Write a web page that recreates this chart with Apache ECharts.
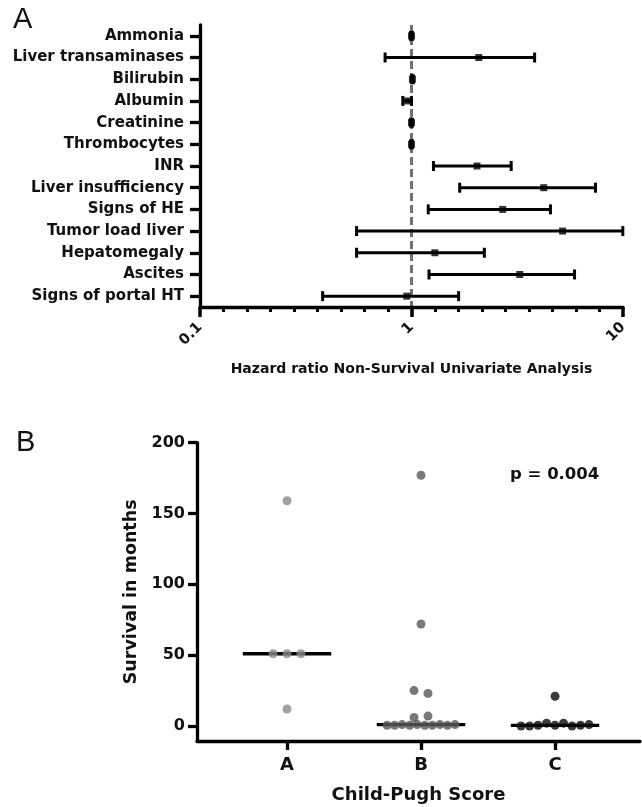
<!DOCTYPE html>
<html>
<head>
<meta charset="utf-8">
<script src="https://cdn.jsdelivr.net/npm/echarts@6/dist/echarts.min.js"></script>
<style>
  html, body { margin: 0; padding: 0; background: #fff; }
  #chart { width: 642px; height: 807px; }
</style>
</head>
<body>
<div id="chart"></div>
<script>
// ---------- Panel A data (hazard ratios) ----------
const factors = ['Ammonia', 'Liver transaminases', 'Bilirubin', 'Albumin', 'Creatinine',
  'Thrombocytes', 'INR', 'Liver insufficiency', 'Signs of HE', 'Tumor load liver',
  'Hepatomegaly', 'Ascites', 'Signs of portal HT'];
const hrLow  = [0.99, 0.75, 1.00, 0.91, 0.99, 0.99, 1.27, 1.69, 1.20, 0.55, 0.55, 1.21, 0.38];
const hrEst  = [1.00, 2.08, 1.01, 0.96, 1.00, 1.00, 2.04, 4.22, 2.70, 5.18, 1.29, 3.25, 0.95];
const hrHigh = [1.01, 3.82, 1.02, 1.00, 1.01, 1.01, 2.96, 7.41, 4.54, 9.98, 2.21, 5.90, 1.67];
const hrTicks = [0.1, 1, 10];

// ---------- Panel B data (survival in months) ----------
const groups = ['A', 'B', 'C'];
const survA = [159, 51, 51, 51, 12];
const survB = [177, 72, 25, 23, 6, 7, 0.5, 0.5, 1, 0.5, 1, 0.5, 0.5, 1, 0.5, 1];
const survC = [21, 0, 0, 0.5, 2, 0.5, 2, 0, 0.5, 1];
const survTicks = [0, 50, 100, 150, 200];
const pText = 'p = 0.004';

// ---------- helpers ----------
function median(arr) {
  const s = arr.slice().sort((a, b) => a - b);
  const n = s.length;
  return n % 2 ? s[(n - 1) / 2] : (s[n / 2 - 1] + s[n / 2]) / 2;
}
// simple centred beeswarm: points with near-equal values share a row
function swarm(vals, center) {
  const idx = vals.map((v, i) => i).sort((a, b) => vals[b] - vals[a]);
  const rows = [];
  idx.forEach(i => {
    const last = rows[rows.length - 1];
    if (last && Math.abs(vals[last[last.length - 1]] - vals[i]) < 4) last.push(i);
    else rows.push([i]);
  });
  const out = [];
  rows.forEach(r => {
    r.sort((a, b) => a - b);
    const n = r.length;
    const sp = n > 1 ? Math.min(0.104, 0.507 / (n - 1)) : 0;
    r.forEach((i, k) => out.push([center + (k - (n - 1) / 2) * sp, vals[i]]));
  });
  return out;
}
// evenly spaced (in log space) minor tick positions, 9 per decade
const minorTickVals = [];
for (let d = 0; d < hrTicks.length - 1; d++) {
  for (let k = 1; k < 9; k++) minorTickVals.push(hrTicks[d] * Math.pow(10, k / 9));
}

const boldFont = 'DejaVu Sans';
const survSets = [survA, survB, survC];
const dotColors = ['#8a8a8a', '#575757', '#0a0a0a'];
const medHalf = 0.33;

const series = [
  {
    type: 'custom',
    xAxisIndex: 0, yAxisIndex: 0,
    data: factors.map((f, i) => [hrLow[i], hrHigh[i], i]),
    encode: { x: [0, 1], y: 2 },
    renderItem: function (params, api) {
      const y = api.value(2);
      const lo = api.coord([api.value(0), y]);
      const hi = api.coord([api.value(1), y]);
      const st = { stroke: '#000', lineWidth: 3 };
      return {
        type: 'group',
        children: [
          { type: 'line', shape: { x1: lo[0], y1: lo[1], x2: hi[0], y2: hi[1] }, style: st },
          { type: 'line', shape: { x1: lo[0], y1: lo[1] - 5, x2: lo[0], y2: lo[1] + 5 }, style: st },
          { type: 'line', shape: { x1: hi[0], y1: hi[1] - 5, x2: hi[0], y2: hi[1] + 5 }, style: st }
        ]
      };
    },
    z: 3
  },
  {
    type: 'scatter',
    xAxisIndex: 0, yAxisIndex: 0,
    data: factors.map((f, i) => [hrEst[i], i]),
    symbol: 'rect',
    symbolSize: [7, 7],
    itemStyle: { color: '#000' },
    z: 4,
    markLine: {
      silent: true,
      symbol: 'none',
      label: { show: false },
      lineStyle: { color: '#707070', width: 3, type: [8, 4] },
      data: [{ xAxis: 1 }],
      z: 2
    }
  }
];

groups.forEach((g, gi) => {
  const m = median(survSets[gi]);
  series.push({
    type: 'line',
    xAxisIndex: 2, yAxisIndex: 1,
    data: [[gi + 1 - medHalf, m], [gi + 1 + medHalf, m]],
    symbol: 'none',
    lineStyle: { color: '#000', width: 3.3 },
    z: 2,
    silent: true
  });
  series.push({
    type: 'scatter',
    xAxisIndex: 2, yAxisIndex: 1,
    data: swarm(survSets[gi], gi + 1),
    symbolSize: 9,
    itemStyle: { color: dotColors[gi] },
    z: 3
  });
});

const chart = echarts.init(document.getElementById('chart'), null, { renderer: 'canvas' });
chart.setOption({
  animation: false,
  backgroundColor: '#fff',
  grid: [
    { left: 200, top: 25, width: 423, height: 282 },
    { left: 197, top: 442.7, width: 443, height: 298.3 }
  ],
  xAxis: [
    {
      gridIndex: 0,
      type: 'log',
      logBase: 10,
      position: 'bottom',
      min: hrTicks[0],
      max: hrTicks[hrTicks.length - 1],
      name: 'Hazard ratio Non-Survival Univariate Analysis',
      nameLocation: 'middle',
      nameGap: 55,
      nameTextStyle: { fontFamily: boldFont, fontWeight: 'bold', fontSize: 14, color: '#111' },
      axisLine: { show: true, onZero: false, lineStyle: { color: '#000', width: 3.3 } },
      axisTick: { show: true, customValues: hrTicks, length: 10, lineStyle: { color: '#000', width: 3.5 } },
      splitLine: { show: false },
      axisLabel: {
        customValues: hrTicks,
        rotate: 45, margin: 18,
        fontFamily: boldFont, fontWeight: 'bold', fontSize: 14.5, color: '#111',
        formatter: v => String(v)
      },
      z: 5
    },
    {
      gridIndex: 0,
      type: 'log',
      logBase: 10,
      position: 'bottom',
      min: hrTicks[0],
      max: hrTicks[hrTicks.length - 1],
      axisLine: { show: false, onZero: false },
      axisTick: { show: true, customValues: minorTickVals, length: 5, lineStyle: { color: '#000', width: 3 } },
      axisLabel: { show: false },
      splitLine: { show: false },
      z: 5
    },
    {
      gridIndex: 1,
      type: 'value',
      min: 0.3284,
      max: 3.634,
      name: 'Child-Pugh Score',
      nameLocation: 'middle',
      nameGap: 45,
      nameTextStyle: { fontFamily: boldFont, fontWeight: 'bold', fontSize: 18, color: '#111' },
      axisLine: { show: true, onZero: false, lineStyle: { color: '#000', width: 3.3 } },
      axisTick: { show: true, length: 9, lineStyle: { color: '#000', width: 3.3 }, customValues: [1, 2, 3] },
      splitLine: { show: false },
      axisLabel: {
        customValues: [1, 2, 3], margin: 15,
        fontFamily: boldFont, fontWeight: 'bold', fontSize: 18, color: '#111',
        formatter: v => groups[Math.round(v) - 1] || ''
      }
    }
  ],
  yAxis: [
    {
      gridIndex: 0,
      type: 'category',
      data: factors,
      inverse: true,
      axisLine: { show: true, onZero: false, lineStyle: { color: '#000', width: 3.3 } },
      axisTick: { show: true, alignWithLabel: true, length: 10, lineStyle: { color: '#000', width: 3.3 } },
      splitLine: { show: false },
      axisLabel: { margin: 16, fontFamily: boldFont, fontWeight: 'bold', fontSize: 15, color: '#111' }
    },
    {
      gridIndex: 1,
      type: 'value',
      min: -10.6,
      max: 200,
      name: 'Survival in months',
      nameLocation: 'middle',
      nameRotate: 90,
      nameGap: 56,
      nameTextStyle: { fontFamily: boldFont, fontWeight: 'bold', fontSize: 17.5, color: '#111' },
      axisLine: { show: true, onZero: false, lineStyle: { color: '#000', width: 3.3 } },
      axisTick: { show: true, length: 9, lineStyle: { color: '#000', width: 3.3 }, customValues: survTicks },
      splitLine: { show: false },
      axisLabel: {
        customValues: survTicks, margin: 12,
        fontFamily: boldFont, fontWeight: 'bold', fontSize: 16, color: '#111'
      }
    }
  ],
  graphic: [
    { type: 'text', left: 13, top: 5, style: { text: 'A', font: '29px "Liberation Sans", Arial', fill: '#111' } },
    { type: 'text', left: 16, top: 428, style: { text: 'B', font: '29px "Liberation Sans", Arial', fill: '#111' } },
    { type: 'text', left: 510, top: 466, style: { text: pText, font: 'bold 16.5px "DejaVu Sans"', fill: '#111' } }
  ],
  series: series
});
</script>
</body>
</html>
